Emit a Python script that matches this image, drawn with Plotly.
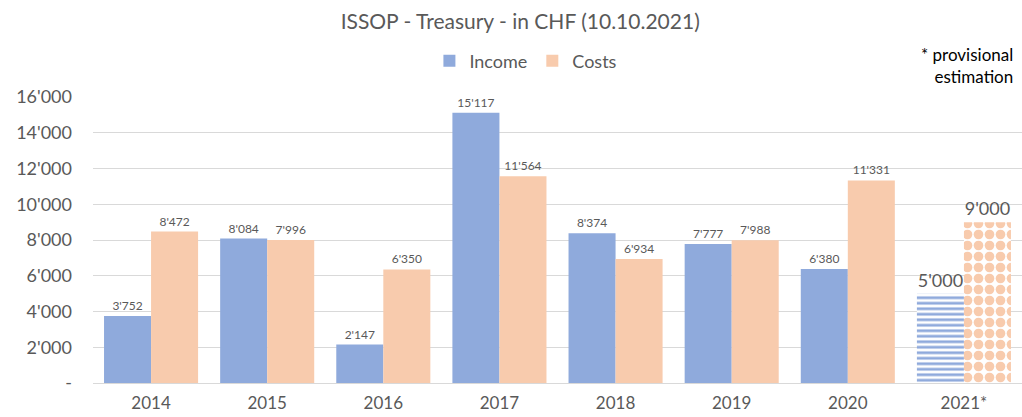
import plotly.graph_objects as go

years = ["2014", "2015", "2016", "2017", "2018", "2019", "2020", "2021*"]
income = [3752, 8084, 2147, 15117, 8374, 7777, 6380, 5000]
costs = [8472, 7996, 6350, 11564, 6934, 7988, 11331, 9000]
provisional = [False, False, False, False, False, False, False, True]
y_ticks = [0, 2000, 4000, 6000, 8000, 10000, 12000, 14000, 16000]

def fmt(v):
    return "-" if v == 0 else f"{v:,}".replace(",", "'")

INC = "#8FAADC"
CST = "#F8CBAD"
GREY = "#595959"
FONT = "Lato"

fig = go.Figure()
for name, vals, col, shape in [("Income", income, INC, "-"), ("Costs", costs, CST, ".")]:
    fig.add_trace(go.Bar(
        name=name, x=years, y=vals,
        text=[fmt(v) for v in vals],
        textposition="outside",
        textfont=dict(size=[18 if p else 12 for p in provisional], color=GREY, family=FONT),
        cliponaxis=False,
        marker=dict(
            color=col,
            line=dict(width=0),
            pattern=dict(
                shape=[shape if p else "" for p in provisional],
                fgcolor=col, bgcolor="white",
                size=5.5 if shape == "-" else 11,
                solidity=0.5 if shape == "-" else 0.6,
                fillmode="replace",
            ),
        ),
    ))

fig.update_layout(
    width=1022, height=417,
    margin=dict(l=93, r=0, t=97, b=34),
    paper_bgcolor="white", plot_bgcolor="white",
    font=dict(family=FONT, color=GREY),
    barmode="group", bargap=0.19, bargroupgap=0,
    title=dict(text="ISSOP - Treasury - in CHF (10.10.2021)", x=0.509, xanchor="center",
               y=0.947, yanchor="middle", font=dict(size=21, color=GREY, family=FONT)),
    legend=dict(orientation="h", x=0.466, xanchor="center", y=1.126, yanchor="middle",
                font=dict(size=18, color=GREY, family=FONT), itemwidth=30,
                traceorder="normal", tracegroupgap=0),
    showlegend=True,
)
fig.update_yaxes(range=[0, 16000], tickvals=y_ticks, ticktext=[fmt(v) for v in y_ticks],
                 showgrid=True, gridcolor="#D9D9D9", gridwidth=1, zeroline=False,
                 showline=False, ticks="", ticklabelstandoff=20,
                 tickfont=dict(size=18, color=GREY, family=FONT))
fig.update_xaxes(showline=True, linecolor="#D9D9D9", linewidth=1, ticks="",
                 tickfont=dict(size=17, color=GREY, family=FONT), ticklabelstandoff=5)
fig.add_annotation(text="* provisional<br>estimation", xref="paper", yref="paper",
                   x=0.992, y=1.11, xanchor="right", yanchor="middle", align="right",
                   showarrow=False, font=dict(size=17, color="#000000", family=FONT))

fig.write_html("out.html")
